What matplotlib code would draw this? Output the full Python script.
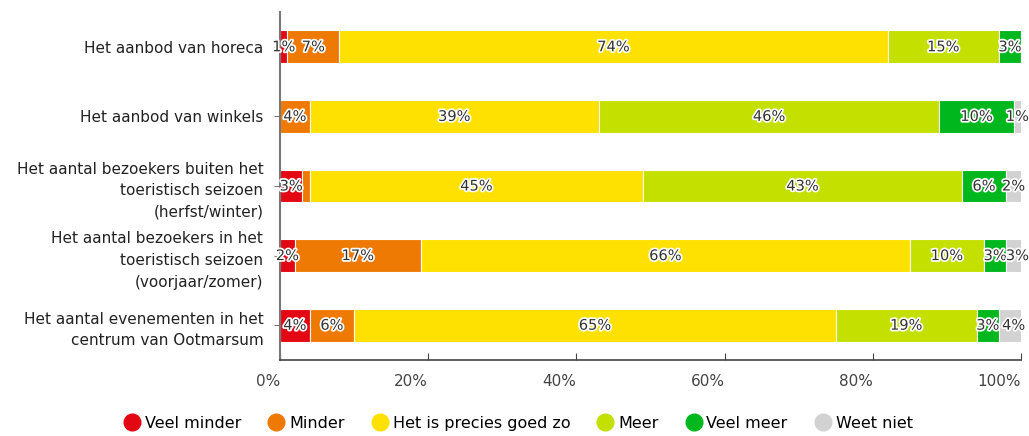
import numpy as np
import matplotlib.pyplot as plt
import matplotlib.patheffects as pe
from matplotlib.lines import Line2D

vragen = ['Het aanbod van horeca',
          'Het aanbod van winkels',
          'Het aantal bezoekers buiten het\ntoeristisch seizoen\n(herfst/winter)',
          'Het aantal bezoekers in het\ntoeristisch seizoen\n(voorjaar/zomer)',
          'Het aantal evenementen in het\ncentrum van Ootmarsum']
categorieen = ['Veel minder', 'Minder', 'Het is precies goed zo', 'Meer', 'Veel meer', 'Weet niet']
kleuren = ['#e30613', '#ee7a04', '#ffe100', '#c3e000', '#00b81e', '#d2d2d2']

veel_minder = [1, 0, 3, 2, 4]
minder = [7, 4, 1, 17, 6]
goed_zo = [74, 39, 45, 66, 65]
meer = [15, 46, 43, 10, 19]
veel_meer = [3, 10, 6, 3, 3]
weet_niet = [0, 1, 2, 3, 4]
reeksen = [veel_minder, minder, goed_zo, meer, veel_meer, weet_niet]

fig = plt.figure(figsize=(10.29, 4.36), dpi=100)
ax = fig.add_axes([280 / 1029, 1 - 360 / 436, 741 / 1029, 348 / 436])

y = np.arange(len(vragen))
links = np.zeros(len(vragen))
halo = [pe.withStroke(linewidth=2.5, foreground='white')]
laatste = np.full(len(vragen), -10.0)
for waarden, kleur in zip(reeksen, kleuren):
    waarden = np.array(waarden, dtype=float)
    ax.barh(y, waarden, left=links, height=0.47, color=kleur,
            edgecolor='white', linewidth=0.8)
    for i, w in enumerate(waarden):
        if w <= 0:
            continue
        mid = links[i] + w / 2
        # labels die elkaar overlappen worden weggelaten
        if mid - laatste[i] < 2.5:
            continue
        ax.text(mid, y[i], f'{int(w)}%', ha='center', va='center',
                fontsize=10.5, color='#333333', path_effects=halo)
        laatste[i] = mid
    links += waarden

ax.set_xlim(0, 100)
ax.set_ylim(len(vragen) - 0.5, -0.5)
ax.set_yticks(y)
ax.set_yticklabels(vragen, fontsize=11, color='#222222', linespacing=1.55)
ax.set_xticks([0, 20, 40, 60, 80, 100])
ax.set_xticklabels(['0%', '20%', '40%', '60%', '80%', '100%'], fontsize=11,
                   color='#444444', ha='right')
ax.tick_params(axis='x', direction='in', length=5, color='#444444', pad=10)
ax.tick_params(axis='y', length=4, color='#777777', pad=8)
for kant in ['top', 'right']:
    ax.spines[kant].set_visible(False)
ax.spines['left'].set_color('#777777')
ax.spines['left'].set_linewidth(1.5)
ax.spines['bottom'].set_color('#444444')
ax.spines['bottom'].set_linewidth(1.2)

handles = [Line2D([], [], marker='o', linestyle='', markersize=12,
                  markerfacecolor=k, markeredgecolor=k) for k in kleuren]
fig.legend(handles, categorieen, loc='center', bbox_to_anchor=(0.503, 1 - 423 / 436),
           ncol=6, frameon=False, fontsize=11.5, handletextpad=0.2,
           handlelength=1.2, columnspacing=1.6)

fig.savefig('out.png', dpi=100)
